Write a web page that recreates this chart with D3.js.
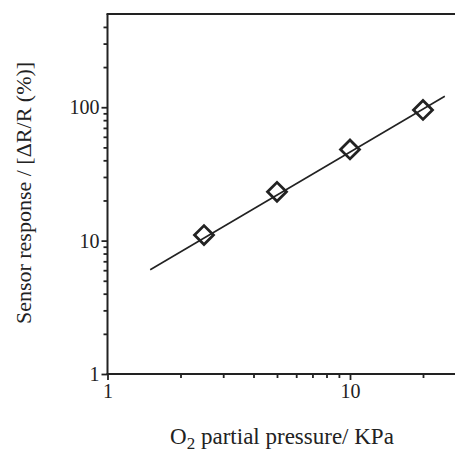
<!DOCTYPE html>
<html>
<head>
<meta charset="utf-8">
<script src="https://cdn.jsdelivr.net/npm/d3@7"></script>
<style>
  body { margin: 0; background: #fff; }
  text { font-family: "Liberation Serif", "Times New Roman", serif; fill: #222; }
</style>
</head>
<body>
<script>
//Width and height
var w = 455;
var h = 455;

//Data
var pressure = [2.5, 5, 10, 20];          // O2 partial pressure, KPa
var response = [11, 23.2, 48.3, 95.5];    // sensor response, %
var fitX = [1.5, 24.6];                   // ends of the fitted line
var fitY = [6.05, 121];

var xMajor = [1, 10];
var yMajor = [1, 10, 100];

//Minor ticks 2..9 in each decade
var xMinor = [2, 3, 4, 5, 6, 7, 8, 9, 20];
var yMinor = [2, 3, 4, 5, 6, 7, 8, 9, 20, 30, 40, 50, 60, 70, 80, 90, 200, 300, 400];

var padL = 107.5, padB = 374, padT = 14;

//Scales (right side is cut off by the window)
var x = d3.scaleLog().domain([1, 30]).range([padL, padL + 242.5 * Math.log10(30)]);
var y = d3.scaleLog().domain([1, 500]).range([padB, padT]);

var svg = d3.select("body")
            .append("svg")
            .attr("width", w)
            .attr("height", h);

//Left axis
svg.append("g")
   .attr("transform", "translate(" + padL + ",0)")
   .call(d3.axisLeft(y).tickValues(yMinor).tickSize(4).tickFormat(""))
   .call(function(g) { g.select(".domain").remove(); });

svg.append("g")
   .attr("transform", "translate(" + padL + ",0)")
   .call(d3.axisLeft(y).tickValues(yMajor).tickSize(6).tickPadding(2)
          .tickFormat(d3.format("d")))
   .call(function(g) { g.select(".domain").remove(); });

//Bottom axis
svg.append("g")
   .attr("transform", "translate(0," + padB + ")")
   .call(d3.axisBottom(x).tickValues(xMinor).tickSize(4).tickFormat(""))
   .call(function(g) { g.select(".domain").remove(); });

svg.append("g")
   .attr("transform", "translate(0," + padB + ")")
   .call(d3.axisBottom(x).tickValues(xMajor).tickSize(6).tickPadding(4)
          .tickFormat(d3.format("d")))
   .call(function(g) { g.select(".domain").remove(); });

svg.selectAll(".tick line").attr("stroke", "#222").attr("stroke-width", 1.8);
svg.selectAll(".tick text").style("font-size", "20px").attr("fill", "#333");

//Frame lines: left, bottom, top (no right side)
svg.append("line").attr("x1", padL).attr("x2", padL).attr("y1", padT).attr("y2", padB)
   .attr("stroke", "#222").attr("stroke-width", 2);
svg.append("line").attr("x1", padL - 1).attr("x2", w).attr("y1", padB).attr("y2", padB)
   .attr("stroke", "#222").attr("stroke-width", 2);
svg.append("line").attr("x1", padL - 1).attr("x2", w).attr("y1", padT).attr("y2", padT)
   .attr("stroke", "#222").attr("stroke-width", 2);

//Fitted line
svg.append("line")
   .attr("x1", x(fitX[0])).attr("y1", y(fitY[0]))
   .attr("x2", x(fitX[1])).attr("y2", y(fitY[1]))
   .attr("stroke", "#222").attr("stroke-width", 1.6);

//Diamond markers
var diamond = d3.symbol().type(d3.symbolSquare).size(180);
svg.selectAll("path.pt")
   .data(pressure)
   .enter()
   .append("path")
   .attr("class", "pt")
   .attr("d", diamond)
   .attr("transform", function(d, i) {
       return "translate(" + x(d) + "," + y(response[i]) + ") rotate(45)";
   })
   .attr("fill", "none")
   .attr("stroke", "#222")
   .attr("stroke-width", 2.8);

//Axis titles
var xt = svg.append("text")
   .attr("x", 282).attr("y", 444)
   .attr("text-anchor", "middle")
   .style("font-size", "23px");
xt.append("tspan").text("O");
xt.append("tspan").attr("dy", 5).style("font-size", "17px").text("2");
xt.append("tspan").attr("dy", -5).text(" partial pressure/ KPa");

svg.append("text")
   .attr("transform", "translate(31,193) rotate(-90)")
   .attr("text-anchor", "middle")
   .style("font-size", "22px")
   .text("Sensor response  / [\u0394R/R (%)]");
</script>
</body>
</html>
